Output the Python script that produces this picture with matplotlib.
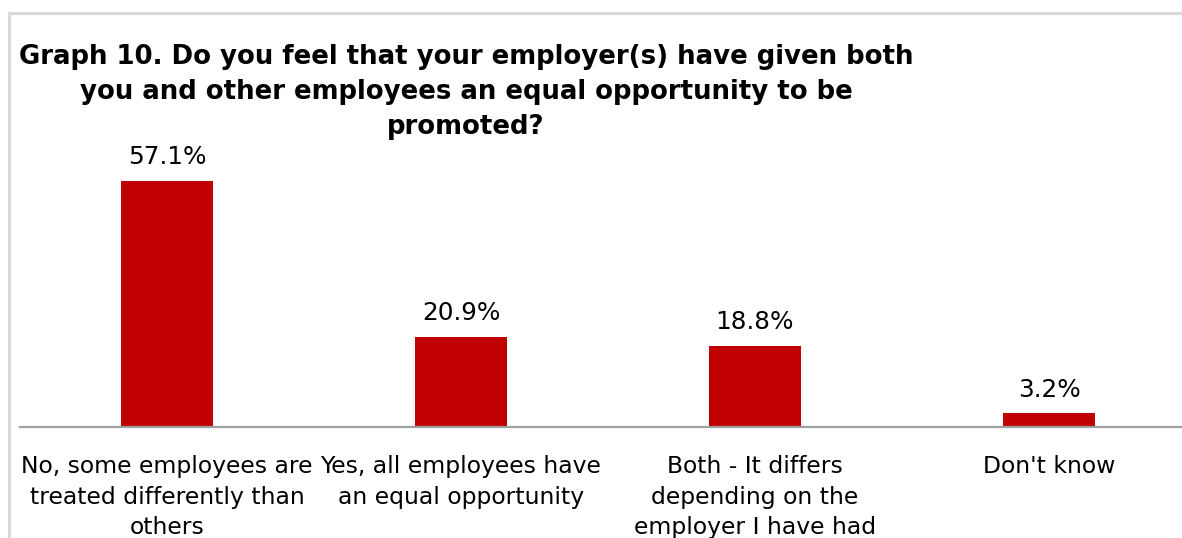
import matplotlib.pyplot as plt
from matplotlib.lines import Line2D

categories = [
    'No, some employees are\ntreated differently than\nothers',
    'Yes, all employees have\nan equal opportunity',
    'Both - It differs\ndepending on the\nemployer I have had',
    "Don't know",
]
values = [57.1, 20.9, 18.8, 3.2]
title = ('Graph 10. Do you feel that your employer(s) have given both\n'
         'you and other employees an equal opportunity to be\n'
         'promoted?')

W, H = 1182, 538
fig = plt.figure(figsize=(W / 100, H / 100), dpi=100)

# plot area runs past the right edge like the original screenshot
ax_left, ax_right = 20, 1196
base_y, top_y = 427, 427 - 60 * 4.308
ax = fig.add_axes([ax_left / W, (H - base_y) / H,
                   (ax_right - ax_left) / W, (base_y - top_y) / H])

x = range(len(values))
bars = ax.bar(x, values, width=0.31, color='#C00000')
ax.set_xlim(-0.5, len(values) - 0.5)
ax.set_ylim(0, 60)

for rect, v in zip(bars, values):
    ax.annotate(f'{v:.1f}%', (rect.get_x() + rect.get_width() / 2, v),
                xytext=(0, 12), textcoords='offset points',
                ha='center', va='baseline', fontsize=17.8, color='#000000')

ax.set_xticks(list(x))
ax.set_xticklabels(categories, fontsize=16.9, linespacing=1.43)
ax.tick_params(axis='x', length=0, pad=20)
ax.set_yticks([])
for side in ['top', 'right', 'left']:
    ax.spines[side].set_visible(False)
ax.spines['bottom'].set_color('#A0A0A0')
ax.spines['bottom'].set_linewidth(1.6)

fig.text(466 / W, 1 - 44 / H, title, ha='center', va='top',
         fontsize=18.7, fontweight='bold', linespacing=1.44)

# light grey chart frame (top and left visible)
frame = dict(color='#D9D9D9', linewidth=2.2, transform=fig.transFigure)
fig.add_artist(Line2D([9 / W, 1.01], [1 - 13 / H, 1 - 13 / H], **frame))
fig.add_artist(Line2D([9 / W, 9 / W], [-0.01, 1 - 13 / H], **frame))

fig.savefig('out.png', dpi=100)
